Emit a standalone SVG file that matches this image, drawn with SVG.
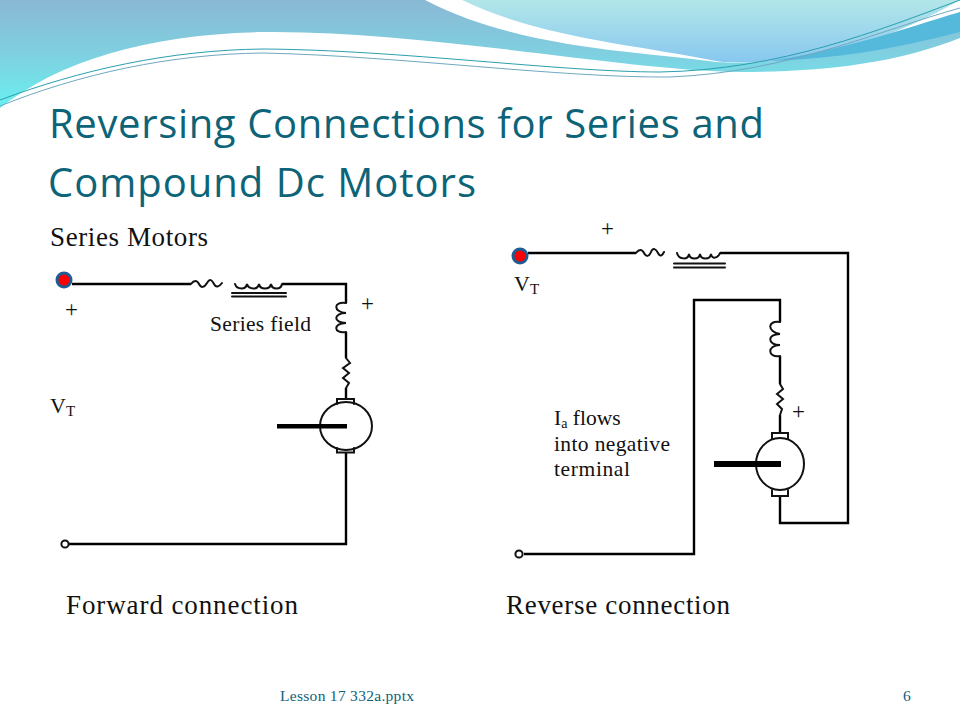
<svg xmlns="http://www.w3.org/2000/svg" width="960" height="720" viewBox="0 0 960 720">
<defs>
<linearGradient id="teal" x1="0" y1="0" x2="0" y2="1"><stop offset="0" stop-color="#8ab8d4"/><stop offset="0.5" stop-color="#7fd0e0"/><stop offset="1" stop-color="#68f0f0"/></linearGradient>
<linearGradient id="sky" x1="0" y1="0" x2="0" y2="1"><stop offset="0" stop-color="#b2e6e8"/><stop offset="1" stop-color="#88c8ef"/></linearGradient>
</defs>
<style>
.w{fill:none;stroke:#000;stroke-width:2.4;stroke-linejoin:miter}
.t{fill:none;stroke:#111;stroke-width:2;stroke-linecap:round}
.b{font-family:"Liberation Serif",serif;fill:#111}
.h{font-family:"Open Sans","Noto Sans",sans-serif;fill:#0d6478;font-size:40px}
.f{font-family:"Liberation Serif",serif;fill:#0f5f7a;font-size:15.5px}
</style>
<rect width="960" height="720" fill="#fff"/>
<g id="background">
<path d="M0 0H960V38C890 66 810 72 740 72C620 70 420 30 263 32C150 34 60 60 0 108Z" fill="url(#teal)"/>
<path d="M425 0H960V20C880 50 790 66 716 62C650 52 520 50 425 0Z" fill="#fff"/>
<path d="M462 0H960C890 40 810 66 735 62C725 62 720 62 716 61C640 45 540 38 462 0Z" fill="url(#sky)"/>
<path d="M770 61C850 48 900 30 960 12V32C890 50 840 58 770 61Z" fill="#55b9dc"/>
<path d="M0 100C80 70 170 50 263 49C400 50 560 72 660 72C780 70 880 30 960 0" fill="none" stroke="#2a9fae" stroke-width="1"/>
<path d="M0 106C80 74 170 54 263 53C400 56 560 78 670 77C790 72 880 30 960 8" fill="none" stroke="#6fa8c0" stroke-width="1"/>
</g>
<g id="title">
<text class="h" x="49" y="138" textLength="715" lengthAdjust="spacing">Reversing Connections for Series and</text>
<text class="h" x="48" y="197" textLength="428" lengthAdjust="spacing">Compound Dc Motors</text>
</g>
<g id="connectors">
<path class="w" d="M72 284H191M282 284H346V303M346 332V358M346 388V400M346 452V544H66"/>
<path class="w" d="M528 253H636M720 253H848V523H780V496M780 433V415M780 384V356M780 322V300H694V554H524"/>
</g>
<g id="forward-terminal"><circle cx="64" cy="280" r="7" fill="#f00" stroke="#1f5c94" stroke-width="3"/></g>
<g id="forward-return-terminal"><circle cx="65" cy="544" r="3.600" fill="#fff" stroke="#111" stroke-width="2"/></g>
<g id="forward-series-resistor"><path class="t" d="M191 284C194 280 197 280 199 284S204 288 207 283S212 280 214 284S219 287 222 283"/></g>
<g id="forward-series-coil">
<path class="t" d="M235 284C237 290 246 290 247 284C249 290 258 290 259 284C260 290 270 290 271 284C272 290 281 290 282 284"/>
<path class="t" d="M232 293H286M232 296.500H286"/>
</g>
<g id="forward-field-coil"><path class="t" d="M346 303C333 301 333 312 346 313C333 313 333 323 346 323C333 323 333 334 346 332"/></g>
<g id="forward-resistor"><path class="t" d="M346 358L350 363L343 368L349 373L343 378L349 383L346 388"/></g>
<g id="forward-motor">
<ellipse cx="346" cy="426" rx="26" ry="24" fill="#fff" stroke="#111" stroke-width="2"/>
<path class="t" d="M337 404V399H354V404M337 448V452.500H354V448"/>
<rect x="277" y="424" width="70" height="4.500" fill="#000"/>
</g>
<g id="reverse-terminal"><circle cx="520" cy="256" r="7" fill="#f00" stroke="#1f5c94" stroke-width="3"/></g>
<g id="reverse-return-terminal"><circle cx="519" cy="554" r="3.600" fill="#fff" stroke="#111" stroke-width="2"/></g>
<g id="reverse-series-resistor"><path class="t" d="M636 253C639 249 642 249 644 253S649 257 651 252S656 249 658 253S662 256 664 252"/></g>
<g id="reverse-series-coil">
<path class="t" d="M677 253C679 260 688 260 689 254C690 260 699 260 700 254C701 260 710 260 711 254C712 260 718 258 720 253"/>
<path class="t" d="M674 263.500H725M674 267.500H725"/>
</g>
<g id="reverse-field-coil"><path class="t" d="M780 322C767 320 767 332 780 334C767 334 767 345 780 345C767 345 767 358 780 356"/></g>
<g id="reverse-resistor"><path class="t" d="M780 384L783 389L777 394L783 399L777 404L782 409L780 415"/></g>
<g id="reverse-motor">
<ellipse cx="780" cy="464" rx="24" ry="26" fill="#fff" stroke="#111" stroke-width="2"/>
<path class="t" d="M772 439V433H788V439M772 490V496H788V490"/>
<rect x="714" y="461" width="67" height="6" fill="#000"/>
</g>
<g id="labels">
<text class="b" x="50" y="246" font-size="27" textLength="158" lengthAdjust="spacing">Series Motors</text>
<text class="b" x="65" y="317" font-size="23">+</text>
<text class="b" x="361" y="311" font-size="23">+</text>
<text class="b" x="210" y="331" font-size="21.500" textLength="101" lengthAdjust="spacing">Series field</text>
<text class="b" x="50" y="413" font-size="22">V<tspan font-size="15" dy="3">T</tspan></text>
<text class="b" x="601" y="236" font-size="23">+</text>
<text class="b" x="514" y="291" font-size="22">V<tspan font-size="15" dy="3">T</tspan></text>
<text class="b" x="792" y="419" font-size="23">+</text>
<text class="b" x="554" y="425" font-size="21.500">I<tspan font-size="14" dy="3">a</tspan><tspan dy="-3"> flows</tspan></text>
<text class="b" x="554" y="451" font-size="21.500" textLength="116" lengthAdjust="spacing">into negative</text>
<text class="b" x="554" y="476" font-size="21.500" textLength="76" lengthAdjust="spacing">terminal</text>
<text class="b" x="66" y="614" font-size="27" textLength="232" lengthAdjust="spacing">Forward connection</text>
<text class="b" x="506" y="614" font-size="27" textLength="224" lengthAdjust="spacing">Reverse connection</text>
</g>
<g id="footer">
<text class="f" x="280" y="701" textLength="134" lengthAdjust="spacing">Lesson 17 332a.pptx</text>
<text class="f" x="903" y="701">6</text>
</g>
</svg>
